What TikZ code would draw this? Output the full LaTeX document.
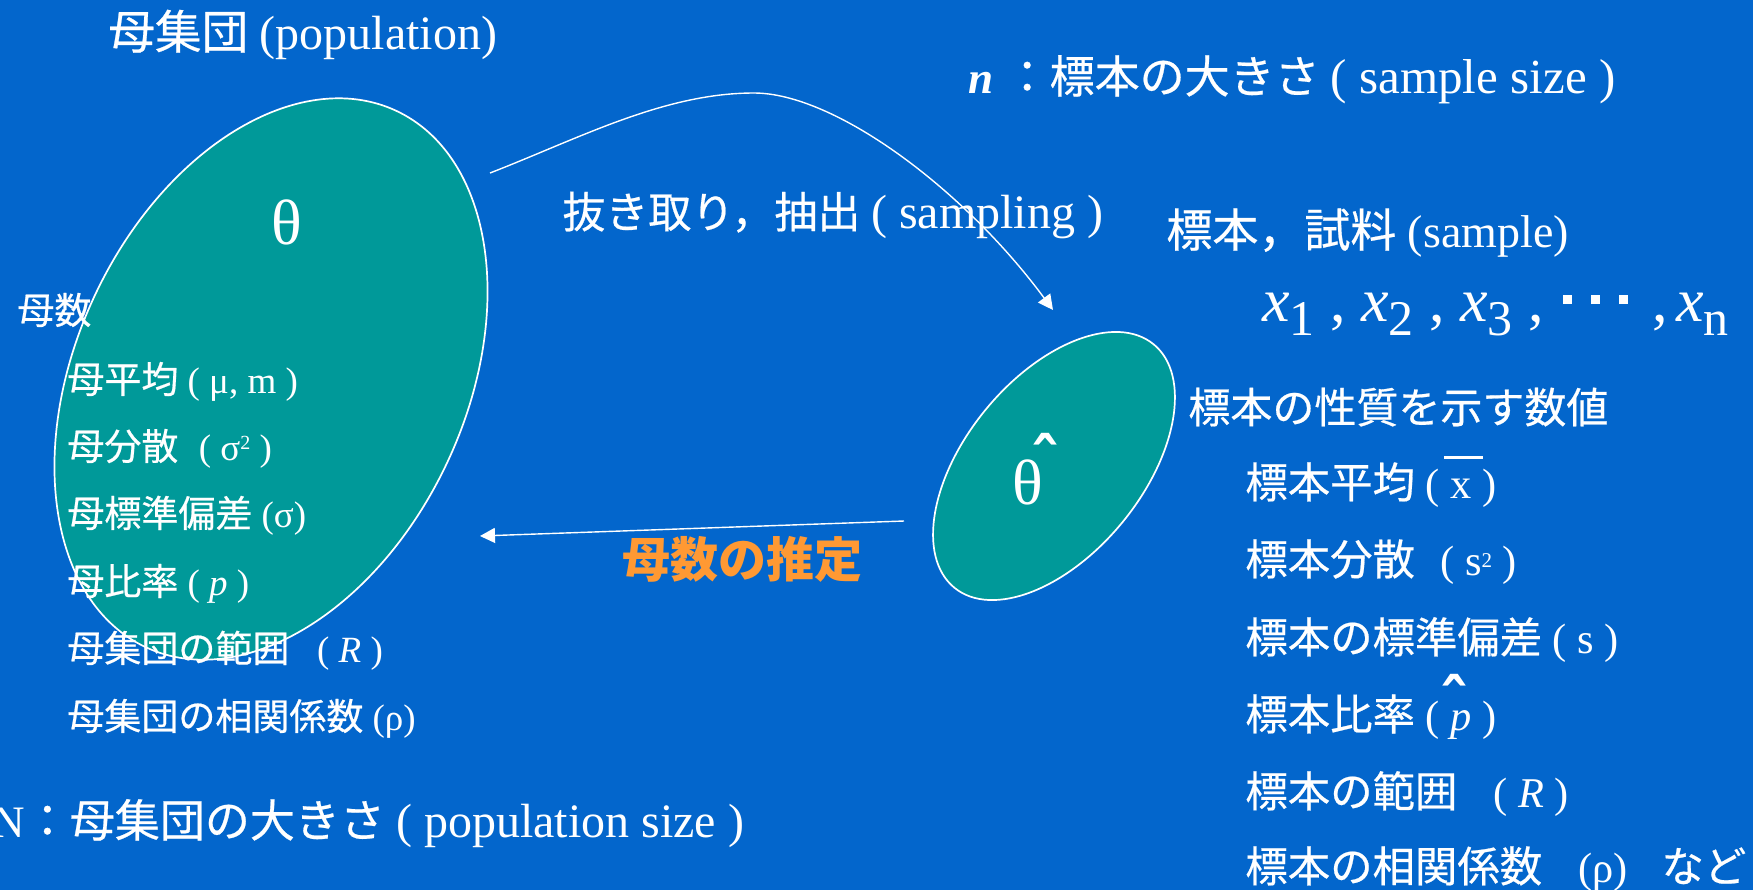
\documentclass[tikz,border=0pt]{standalone}
\usepackage{fontspec}
\setmainfont{Liberation Serif}
\newfontfamily\jp[FakeBold=0.5]{Noto Sans CJK JP}
\newfontfamily\jpo{Noto Sans CJK JP}
\newfontfamily\dv{DejaVu Sans}
\usetikzlibrary{arrows.meta,shapes.geometric}
\definecolor{bgblue}{RGB}{3,102,204}
\definecolor{tealfill}{RGB}{0,153,153}
\definecolor{orng}{RGB}{255,153,51}
\newcommand\fsz[1]{\fontsize{#1}{#1}\selectfont}
\newcommand\J[1]{{\jp #1}}
\newcommand\hatg{{\dv\bfseries\fsz{32}ˆ}}
\newcommand\xsb[1]{{\itshape x}\raisebox{-7pt}{\fsz{25}#1}}
\newcommand\sqb{\rule[8.5pt]{4.5pt}{4.5pt}}
\newcommand\xbarb{\makebox[0pt][l]{\hspace{-3pt}\rule[19.5pt]{19.5pt}{1.5pt}}x}
\newcommand\phatb{\makebox[0pt][l]{\hspace{-5.75pt}\raisebox{2.5pt}{\hatg}}\textit{p}}
\begin{document}
\begin{tikzpicture}[x=0.5pt,y=-0.5pt,
  txt/.style={text=white,inner sep=0pt,anchor=base west},
  blob/.style={ellipse,draw=white,fill=tealfill,line width=0.85pt,inner sep=0pt},
  conn/.style={white,line width=0.7pt,-{Triangle[length=7.5pt,width=7.5pt]}}]
\useasboundingbox (0,0) rectangle (1753,890);
\clip (0,0) rectangle (1753,890);
\fill[bgblue] (0,0) rectangle (1753,890);
% ellipses
\node[blob,minimum width=296pt,minimum height=195pt,rotate=65] (pop) at (271,379) {};
\node[blob,minimum width=157.3pt,minimum height=88.6pt,rotate=50.7] (smp) at (1054,466) {};
% arrows
\coordinate (sS) at (490,173);
\coordinate (sP) at (754,93);
\coordinate (sT) at (1053,310);
\draw[conn] (sS) .. controls (580,138) and (664,93) .. (sP) .. controls (834,93) and (963,188) .. (sT);
\coordinate (eS) at (904,521);
\coordinate (eT) at (480,536);
\draw[conn] (eS) -- (eT);
% texts
\node[txt,font=\fsz{23.3}] (title) at (108,49) {\J{母集団} {\fsz{24}(population)}};
\node[txt,font=\fsz{22.5}] (nline) at (968,93) {{\bfseries\itshape n} \J{：標本の大きさ} {\fsz{24.5}( sample size )}};
\node[txt,font=\fsz{21.5}] (samp) at (562,228) {\J{抜き取り，抽出} {\fsz{24}( sampling )}};
\node[txt,font=\fsz{23}] (sample) at (1166,247) {\J{標本，試料} (sample)};
\node[txt,font=\fsz{31}] (xs) at (1262,321) {\xsb{1} , \xsb{2} , \xsb{3} ,\hspace{9.5pt}\sqb\hspace{9.5pt}\sqb\hspace{9.5pt}\sqb\hspace{12.5pt},\hspace{4pt}\xsb{n}};
\node[text=white,inner sep=0pt,font=\fsz{32}] (th) at (287,222) {θ};
\node[text=white,inner sep=0pt,font=\fsz{32}] (thh) at (1028,482) {θ};
\node[text=white,inner sep=0pt,anchor=base] (hh) at (1045,484) {\hatg};
% left list
\node[txt,font=\fsz{18.5}] (p0) at (17,324) {\J{母数}};
\node[txt,font=\fsz{18.5}] (p1) at (67,393) {\J{母平均} ( μ, m )};
\node[txt,font=\fsz{18.5}] (p2) at (67,460) {\J{母分散}\hspace{0.3em} ( σ\raisebox{5.5pt}{\fsz{10}2} )};
\node[txt,font=\fsz{18.5}] (p3) at (67,527) {\J{母標準偏差} (σ)};
\node[txt,font=\fsz{18.5}] (p4) at (67,595) {\J{母比率} ( \textit{p} )};
\node[txt,font=\fsz{18.5}] (p5) at (67,662) {\J{母集団の範囲}\hspace{0.5em} ( \textit{R} )};
\node[txt,font=\fsz{18.5}] (p6) at (67,730) {\J{母集団の相関係数} (ρ)};
\node[txt,font=\fsz{22.5}] (Nline) at (-8,837) {N\J{：母集団の大きさ} {\fsz{24}( population size )}};
% estimation label
\node[txt,text=orng,font=\fsz{24}\bfseries] (est) at (622,577) {{\jpo 母数の推定}};
% right list
\node[txt,font=\fsz{21}] (h0) at (1188,423) {\J{標本の性質を示す数値}};
\node[txt,font=\fsz{21.2}] (s1) at (1245,498) {\J{標本平均} ( \xbarb{} )};
\node[txt,font=\fsz{21.2}] (s2) at (1245,575) {\J{標本分散}\hspace{0.35em} ( s\raisebox{4pt}{\fsz{10.5}2} )};
\node[txt,font=\fsz{21.2}] (s3) at (1245,653) {\J{標本の標準偏差} ( s )};
\node[txt,font=\fsz{21.2}] (s4) at (1245,730) {\J{標本比率} ( \phatb{} )};
\node[txt,font=\fsz{21.2}] (s5) at (1245,807) {\J{標本の範囲}\hspace{0.6em} ( \textit{R} )};
\node[txt,font=\fsz{21.2}] (s6) at (1245,882) {\J{標本の相関係数}\hspace{0.6em} (ρ)\hspace{0.8em}\J{など}};
\end{tikzpicture}
\end{document}
